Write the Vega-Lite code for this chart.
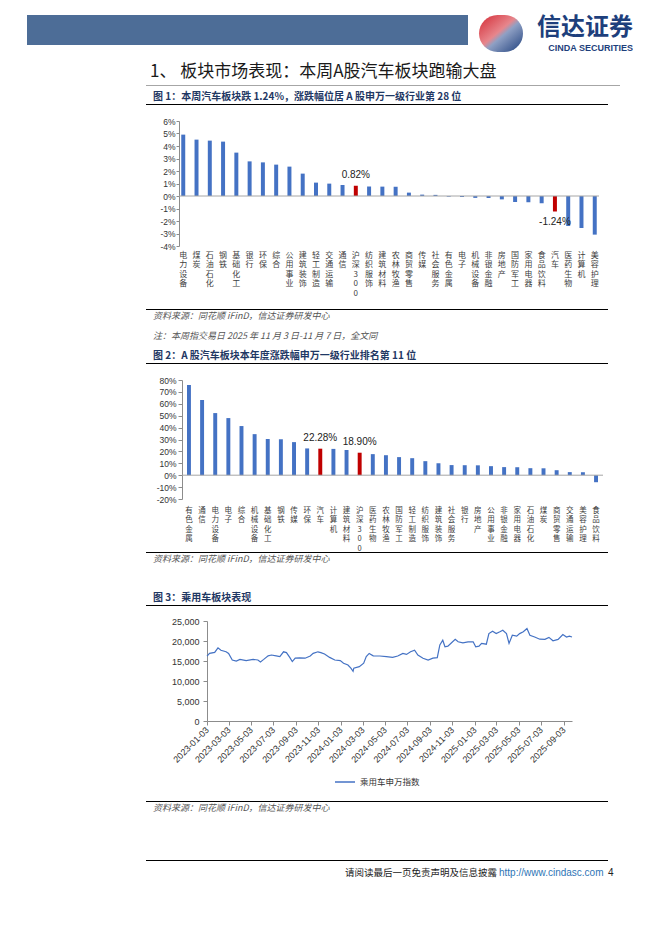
{
  "$schema": "https://vega.github.io/schema/vega-lite/v6.json",
  "padding": {"left": 27, "top": 15, "right": 0, "bottom": 0},
  "background": "white",
  "config": {
    "view": {"stroke": null},
    "font": "Liberation Sans",
    "axis": {"labelColor": "#333333", "domainColor": "#8C8C8C", "tickColor": "#8C8C8C", "grid": false}
  },
  "spacing": 0,
  "bounds": "flush",
  "hconcat": [
    {"width": 119, "height": 30, "data": {"values": []}, "mark": "point", "view": {"fill": "#4D6D97", "stroke": null}},
    {
      "spacing": 0,
      "bounds": "flush",
      "vconcat": [
        {
          "spacing": 0, "bounds": "flush",
          "hconcat": [
            {"width": 322, "height": 30, "data": {"values": []}, "mark": "point", "view": {"fill": "#4D6D97", "stroke": null}},
            {"width": 11, "height": 1, "data": {"values": []}, "mark": "point"},
            {"width": 44, "height": 37, "data": {"values": []}, "mark": "point",
             "view": {"cornerRadius": 19, "stroke": null,
                      "fill": {"gradient": "linear", "x1": 0, "y1": 0, "x2": 1, "y2": 1,
                               "stops": [{"offset": 0, "color": "#D42A34"}, {"offset": 0.45, "color": "#E7868C"}, {"offset": 0.55, "color": "#8FA0C4"}, {"offset": 1, "color": "#1E3F7C"}]}}},
            {"width": 110, "height": 1, "data": {"values": []}, "mark": "point",
             "title": {"text": "信达证券", "subtitle": "CINDA SECURITIES", "orient": "bottom", "anchor": "end", "offset": 0,
                       "font": "Noto Sans CJK SC", "fontSize": 24, "fontWeight": "bold", "color": "#1E3F7C",
                       "subtitleFont": "Liberation Sans", "subtitleFontSize": 9, "subtitleFontWeight": "bold", "subtitleColor": "#1E3F7C", "subtitlePadding": 4}}
          ]
        },
        {"width": 1, "height": 70, "data": {"values": []}, "mark": "point"},
        {"width": 474, "height": 1, "data": {"values": []}, "mark": "point", "view": {"fill": "#A6A6A6", "stroke": null},
         "title": {"text": "1、 板块市场表现：本周A股汽车板块跑输大盘", "anchor": "start", "orient": "top", "offset": 4, "dx": 4,
                   "font": "Noto Sans CJK SC", "fontSize": 17, "fontWeight": "normal", "color": "#1A1A1A"}},
        {"width": 1, "height": 18, "data": {"values": []}, "mark": "point"},
        {"width": 462, "height": 1, "data": {"values": []}, "mark": "point", "view": {"fill": "#000000", "stroke": null},
         "title": {"text": "图 1：本周汽车板块跌 1.24%，涨跌幅位居 A 股申万一级行业第 28 位", "anchor": "start", "orient": "top", "offset": 2, "dx": 7,
                   "font": "Noto Sans CJK SC", "fontSize": 10, "fontWeight": "bold", "color": "#1F3864"}},
        {"width": 1, "height": 16, "data": {"values": []}, "mark": "point"},
        {
          "spacing": 0, "bounds": "flush",
          "hconcat": [
            {"width": 33, "height": 1, "data": {"values": []}, "mark": "point"},
            {
              "width": 420, "height": 125,
              "data": {"values": [
                {"n": "电力设备", "v": 4.91}, {"n": "煤炭", "v": 4.51}, {"n": "石油石化", "v": 4.43}, {"n": "钢铁", "v": 4.35},
                {"n": "基础化工", "v": 3.47}, {"n": "银行", "v": 2.77}, {"n": "环保", "v": 2.69}, {"n": "综合", "v": 2.51},
                {"n": "公用事业", "v": 2.35}, {"n": "建筑装饰", "v": 1.79}, {"n": "轻工制造", "v": 1.07}, {"n": "交通运输", "v": 0.99},
                {"n": "通信", "v": 0.88}, {"n": "沪深300", "v": 0.82, "lab": "0.82%"}, {"n": "纺织服饰", "v": 0.76}, {"n": "建筑材料", "v": 0.75},
                {"n": "农林牧渔", "v": 0.74}, {"n": "商贸零售", "v": 0.27}, {"n": "传媒", "v": 0.11}, {"n": "社会服务", "v": 0.09},
                {"n": "有色金属", "v": -0.05}, {"n": "电子", "v": -0.08}, {"n": "机械设备", "v": -0.15}, {"n": "非银金融", "v": -0.16},
                {"n": "房地产", "v": -0.27}, {"n": "国防军工", "v": -0.48}, {"n": "家用电器", "v": -0.5}, {"n": "食品饮料", "v": -0.58},
                {"n": "汽车", "v": -1.24, "lab": "-1.24%"}, {"n": "医药生物", "v": -2.4}, {"n": "计算机", "v": -2.56}, {"n": "美容护理", "v": -3.09}
              ]},
              "layer": [
                {
                  "mark": {"type": "bar"},
                  "encoding": {
                    "x": {"field": "n", "type": "nominal", "sort": null,
                          "scale": {"paddingInner": 0.7, "paddingOuter": 0.17},
                          "axis": {"title": null, "domain": false, "ticks": false, "labelAngle": 0, "labelAlign": "center", "labelBaseline": "top",
                                   "labelExpr": "split(datum.label, '')", "labelFont": "Noto Sans CJK SC", "labelFontSize": 8, "labelLineHeight": 9.5,
                                   "labelPadding": 5, "labelOverlap": false, "labelColor": "#404040", "labelBound": false}},
                    "y": {"field": "v", "type": "quantitative",
                          "scale": {"domain": [-4, 6], "nice": false},
                          "axis": {"title": null, "values": [-4, -3, -2, -1, 0, 1, 2, 3, 4, 5, 6], "labelExpr": "datum.value + '%'",
                                   "labelFontSize": 8.5, "tickSize": 3, "labelPadding": 1, "labelOverlap": false, "domainColor": "#8C8C8C"}},
                    "color": {"condition": {"test": "datum.lab", "value": "#C00000"}, "value": "#4472C4"}
                  }
                },
                {"data": {"values": [{}]}, "mark": {"type": "rule", "color": "#A6A6A6", "strokeWidth": 1},
                 "encoding": {"y": {"datum": 0, "type": "quantitative",
                                    "axis": {"title": null, "values": [-4, -3, -2, -1, 0, 1, 2, 3, 4, 5, 6], "labelExpr": "datum.value + '%'",
                                             "labelFontSize": 8.5, "tickSize": 3, "labelPadding": 1, "labelOverlap": false, "domainColor": "#8C8C8C"}}}},
                {
                  "transform": [{"filter": "datum.lab && datum.v > 0"}],
                  "mark": {"type": "text", "baseline": "bottom", "dy": -6, "font": "Liberation Sans", "fontSize": 10, "color": "#222222"},
                  "encoding": {
                    "x": {"field": "n", "type": "nominal", "sort": null,
                          "axis": {"title": null, "domain": false, "ticks": false, "labelAngle": 0, "labelAlign": "center", "labelBaseline": "top",
                                   "labelExpr": "split(datum.label, '')", "labelFont": "Noto Sans CJK SC", "labelFontSize": 8, "labelLineHeight": 9.5,
                                   "labelPadding": 5, "labelOverlap": false, "labelColor": "#404040", "labelBound": false}},
                    "y": {"field": "v", "type": "quantitative",
                          "axis": {"title": null, "values": [-4, -3, -2, -1, 0, 1, 2, 3, 4, 5, 6], "labelExpr": "datum.value + '%'",
                                   "labelFontSize": 8.5, "tickSize": 3, "labelPadding": 1, "labelOverlap": false, "domainColor": "#8C8C8C"}},
                    "text": {"field": "lab"}}
                },
                {
                  "transform": [{"filter": "datum.lab && datum.v < 0"}],
                  "mark": {"type": "text", "baseline": "top", "dy": 5, "font": "Liberation Sans", "fontSize": 10, "color": "#222222"},
                  "encoding": {
                    "x": {"field": "n", "type": "nominal", "sort": null,
                          "axis": {"title": null, "domain": false, "ticks": false, "labelAngle": 0, "labelAlign": "center", "labelBaseline": "top",
                                   "labelExpr": "split(datum.label, '')", "labelFont": "Noto Sans CJK SC", "labelFontSize": 8, "labelLineHeight": 9.5,
                                   "labelPadding": 5, "labelOverlap": false, "labelColor": "#404040", "labelBound": false}},
                    "y": {"field": "v", "type": "quantitative",
                          "axis": {"title": null, "values": [-4, -3, -2, -1, 0, 1, 2, 3, 4, 5, 6], "labelExpr": "datum.value + '%'",
                                   "labelFontSize": 8.5, "tickSize": 3, "labelPadding": 1, "labelOverlap": false, "domainColor": "#8C8C8C"}},
                    "text": {"field": "lab"}}
                }
              ]
            }
          ]
        },
        {"width": 1, "height": 188, "data": {"values": []}, "mark": "point"},
        {"width": 462, "height": 1, "data": {"values": []}, "mark": "point", "view": {"fill": "#000000", "stroke": null},
         "title": {"text": ["资料来源：同花顺 iFinD，信达证券研发中心", "注：本周指交易日 2025 年 11 月 3 日-11 月 7 日，全文同"], "anchor": "start", "orient": "bottom", "offset": 2, "dx": 7,
                   "lineHeight": 20, "font": "Noto Sans CJK SC", "fontSize": 9, "fontWeight": "normal", "fontStyle": "italic", "color": "#555555"}},
        {"width": 1, "height": 53, "data": {"values": []}, "mark": "point"},
        {"width": 462, "height": 1, "data": {"values": []}, "mark": "point", "view": {"fill": "#000000", "stroke": null},
         "title": {"text": "图 2：A 股汽车板块本年度涨跌幅申万一级行业排名第 11 位", "anchor": "start", "orient": "top", "offset": 2, "dx": 7,
                   "font": "Noto Sans CJK SC", "fontSize": 10, "fontWeight": "bold", "color": "#1F3864"}},
        {"width": 1, "height": 16, "data": {"values": []}, "mark": "point"},
        {
          "spacing": 0, "bounds": "flush",
          "hconcat": [
            {"width": 36, "height": 1, "data": {"values": []}, "mark": "point"},
            {
              "width": 421, "height": 119,
              "data": {"values": [
                {"n": "有色金属", "v": 75.8}, {"n": "通信", "v": 63.2}, {"n": "电力设备", "v": 52.2}, {"n": "电子", "v": 48.0},
                {"n": "综合", "v": 41.3}, {"n": "机械设备", "v": 34.5}, {"n": "基础化工", "v": 30.4}, {"n": "钢铁", "v": 30.2},
                {"n": "传媒", "v": 27.8}, {"n": "环保", "v": 22.5}, {"n": "汽车", "v": 22.28, "lab": "22.28%"}, {"n": "计算机", "v": 22.1},
                {"n": "建筑材料", "v": 21.2}, {"n": "沪深300", "v": 18.9, "lab": "18.90%"}, {"n": "医药生物", "v": 17.7}, {"n": "农林牧渔", "v": 16.8},
                {"n": "国防军工", "v": 15.2}, {"n": "轻工制造", "v": 14.3}, {"n": "纺织服饰", "v": 11.8}, {"n": "建筑装饰", "v": 10.1},
                {"n": "社会服务", "v": 8.5}, {"n": "银行", "v": 8.4}, {"n": "房地产", "v": 8.3}, {"n": "公用事业", "v": 7.6},
                {"n": "非银金融", "v": 6.8}, {"n": "家用电器", "v": 6.7}, {"n": "石油石化", "v": 5.9}, {"n": "煤炭", "v": 5.8},
                {"n": "商贸零售", "v": 4.2}, {"n": "交通运输", "v": 2.6}, {"n": "美容护理", "v": 2.5}, {"n": "食品饮料", "v": -5.9}
              ]},
              "layer": [
                {
                  "mark": {"type": "bar"},
                  "encoding": {
                    "x": {"field": "n", "type": "nominal", "sort": null,
                          "scale": {"paddingInner": 0.7, "paddingOuter": 0.38},
                          "axis": {"title": null, "domain": false, "ticks": false, "labelAngle": 0, "labelAlign": "center", "labelBaseline": "top",
                                   "labelExpr": "split(datum.label, '')", "labelFont": "Noto Sans CJK SC", "labelFontSize": 7.5, "labelLineHeight": 9.5,
                                   "labelPadding": 7, "labelOverlap": false, "labelColor": "#404040", "labelBound": false}},
                    "y": {"field": "v", "type": "quantitative",
                          "scale": {"domain": [-20, 80], "nice": false},
                          "axis": {"title": null, "values": [-20, -10, 0, 10, 20, 30, 40, 50, 60, 70, 80], "labelExpr": "datum.value + '%'",
                                   "labelFontSize": 8.5, "tickSize": 4, "labelPadding": 2, "labelOverlap": false, "domainColor": "#8C8C8C"}},
                    "color": {"condition": {"test": "datum.lab", "value": "#C00000"}, "value": "#4472C4"}
                  }
                },
                {"data": {"values": [{}]}, "mark": {"type": "rule", "color": "#A6A6A6", "strokeWidth": 1},
                 "encoding": {"y": {"datum": 0, "type": "quantitative",
                                    "axis": {"title": null, "values": [-20, -10, 0, 10, 20, 30, 40, 50, 60, 70, 80], "labelExpr": "datum.value + '%'",
                                             "labelFontSize": 8.5, "tickSize": 4, "labelPadding": 2, "labelOverlap": false, "domainColor": "#8C8C8C"}}}},
                {
                  "transform": [{"filter": "datum.lab && datum.v > 0"}],
                  "mark": {"type": "text", "baseline": "bottom", "dy": -6, "font": "Liberation Sans", "fontSize": 10, "color": "#222222"},
                  "encoding": {
                    "x": {"field": "n", "type": "nominal", "sort": null,
                          "axis": {"title": null, "domain": false, "ticks": false, "labelAngle": 0, "labelAlign": "center", "labelBaseline": "top",
                                   "labelExpr": "split(datum.label, '')", "labelFont": "Noto Sans CJK SC", "labelFontSize": 7.5, "labelLineHeight": 9.5,
                                   "labelPadding": 7, "labelOverlap": false, "labelColor": "#404040", "labelBound": false}},
                    "y": {"field": "v", "type": "quantitative",
                          "axis": {"title": null, "values": [-20, -10, 0, 10, 20, 30, 40, 50, 60, 70, 80], "labelExpr": "datum.value + '%'",
                                   "labelFontSize": 8.5, "tickSize": 4, "labelPadding": 2, "labelOverlap": false, "domainColor": "#8C8C8C"}},
                    "text": {"field": "lab"}}
                }
              ]
            }
          ]
        },
        {"width": 1, "height": 172, "data": {"values": []}, "mark": "point"},
        {"width": 462, "height": 1, "data": {"values": []}, "mark": "point", "view": {"fill": "#000000", "stroke": null},
         "title": {"text": "资料来源：同花顺 iFinD，信达证券研发中心", "anchor": "start", "orient": "bottom", "offset": 2, "dx": 7,
                   "font": "Noto Sans CJK SC", "fontSize": 9, "fontWeight": "normal", "fontStyle": "italic", "color": "#555555"}},
        {"width": 1, "height": 52, "data": {"values": []}, "mark": "point"},
        {"width": 462, "height": 1, "data": {"values": []}, "mark": "point", "view": {"fill": "#000000", "stroke": null},
         "title": {"text": "图 3：乘用车板块表现", "anchor": "start", "orient": "top", "offset": 2, "dx": 7,
                   "font": "Noto Sans CJK SC", "fontSize": 10, "fontWeight": "bold", "color": "#1F3864"}},
        {"width": 1, "height": 15, "data": {"values": []}, "mark": "point"},
        {
          "spacing": 0, "bounds": "flush",
          "hconcat": [
            {"width": 61, "height": 1, "data": {"values": []}, "mark": "point"},
            {
              "width": 365, "height": 100,
              "data": {"values": [
                {"d": "2023-01-03", "v": 16200}, {"d": "2023-01-10", "v": 16900}, {"d": "2023-01-24", "v": 17150}, {"d": "2023-02-02", "v": 18300},
                {"d": "2023-02-10", "v": 17700}, {"d": "2023-02-24", "v": 17300}, {"d": "2023-03-03", "v": 16900}, {"d": "2023-03-13", "v": 15260},
                {"d": "2023-03-24", "v": 15000}, {"d": "2023-04-03", "v": 15400}, {"d": "2023-04-20", "v": 15100}, {"d": "2023-05-09", "v": 15400},
                {"d": "2023-05-22", "v": 15250}, {"d": "2023-05-29", "v": 14770}, {"d": "2023-06-07", "v": 15400}, {"d": "2023-06-19", "v": 16300},
                {"d": "2023-06-28", "v": 16500}, {"d": "2023-07-11", "v": 16300}, {"d": "2023-07-21", "v": 16100}, {"d": "2023-07-31", "v": 17300},
                {"d": "2023-08-08", "v": 17100}, {"d": "2023-08-17", "v": 15900}, {"d": "2023-08-24", "v": 14850}, {"d": "2023-09-01", "v": 15700},
                {"d": "2023-09-13", "v": 15800}, {"d": "2023-09-28", "v": 15700}, {"d": "2023-10-12", "v": 16250}, {"d": "2023-10-20", "v": 16900},
                {"d": "2023-11-02", "v": 17300}, {"d": "2023-11-10", "v": 17100}, {"d": "2023-11-20", "v": 16750}, {"d": "2023-12-04", "v": 15900},
                {"d": "2023-12-18", "v": 15250}, {"d": "2024-01-02", "v": 15100}, {"d": "2024-01-11", "v": 14450}, {"d": "2024-01-23", "v": 14000},
                {"d": "2024-01-31", "v": 13200}, {"d": "2024-02-06", "v": 12400}, {"d": "2024-02-08", "v": 13200}, {"d": "2024-02-23", "v": 13600},
                {"d": "2024-03-06", "v": 14450}, {"d": "2024-03-13", "v": 16100}, {"d": "2024-03-21", "v": 16900}, {"d": "2024-04-01", "v": 16300},
                {"d": "2024-04-19", "v": 16250}, {"d": "2024-05-07", "v": 16100}, {"d": "2024-05-24", "v": 15900}, {"d": "2024-06-07", "v": 16250},
                {"d": "2024-06-21", "v": 16900}, {"d": "2024-07-01", "v": 16650}, {"d": "2024-07-12", "v": 17300}, {"d": "2024-07-23", "v": 17700},
                {"d": "2024-08-01", "v": 16500}, {"d": "2024-08-15", "v": 15700}, {"d": "2024-08-29", "v": 15250}, {"d": "2024-09-11", "v": 15700},
                {"d": "2024-09-23", "v": 15850}, {"d": "2024-09-30", "v": 19000}, {"d": "2024-10-08", "v": 20200}, {"d": "2024-10-14", "v": 18550},
                {"d": "2024-10-22", "v": 18700}, {"d": "2024-11-01", "v": 19550}, {"d": "2024-11-11", "v": 20400}, {"d": "2024-11-19", "v": 19800},
                {"d": "2024-12-02", "v": 19550}, {"d": "2024-12-16", "v": 19800}, {"d": "2024-12-30", "v": 19800}, {"d": "2025-01-06", "v": 18550},
                {"d": "2025-01-15", "v": 18700}, {"d": "2025-01-22", "v": 19400}, {"d": "2025-02-04", "v": 19200}, {"d": "2025-02-11", "v": 21850},
                {"d": "2025-02-21", "v": 22450}, {"d": "2025-03-03", "v": 21850}, {"d": "2025-03-13", "v": 22300}, {"d": "2025-03-21", "v": 22700},
                {"d": "2025-03-31", "v": 21850}, {"d": "2025-04-07", "v": 19400}, {"d": "2025-04-16", "v": 21450}, {"d": "2025-04-28", "v": 21200},
                {"d": "2025-05-06", "v": 21850}, {"d": "2025-05-16", "v": 22300}, {"d": "2025-05-26", "v": 23100}, {"d": "2025-06-03", "v": 21450},
                {"d": "2025-06-16", "v": 21000}, {"d": "2025-06-30", "v": 20450}, {"d": "2025-07-14", "v": 20400}, {"d": "2025-07-25", "v": 20900},
                {"d": "2025-08-05", "v": 20050}, {"d": "2025-08-19", "v": 20400}, {"d": "2025-09-01", "v": 21600}, {"d": "2025-09-11", "v": 21000},
                {"d": "2025-09-19", "v": 21200}, {"d": "2025-09-26", "v": 21000}
              ]},
              "mark": {"type": "line", "strokeWidth": 1.2},
              "encoding": {
                "x": {"field": "d", "type": "temporal",
                      "scale": {"type": "utc", "nice": false,
                                "domain": [{"year": 2023, "month": 1, "date": 3, "utc": true}, {"year": 2025, "month": 9, "date": 26, "utc": true}]},
                      "axis": {"title": null, "format": "%Y-%m-%d", "labelAngle": -45, "labelAlign": "right", "labelBaseline": "middle",
                               "labelFontSize": 9, "labelPadding": 3, "tickSize": 4, "labelOverlap": false, "labelFlush": false, "labelBound": false,
                               "values": [
                                 {"year": 2023, "month": 1, "date": 3, "utc": true}, {"year": 2023, "month": 3, "date": 3, "utc": true},
                                 {"year": 2023, "month": 5, "date": 3, "utc": true}, {"year": 2023, "month": 7, "date": 3, "utc": true},
                                 {"year": 2023, "month": 9, "date": 3, "utc": true}, {"year": 2023, "month": 11, "date": 3, "utc": true},
                                 {"year": 2024, "month": 1, "date": 3, "utc": true}, {"year": 2024, "month": 3, "date": 3, "utc": true},
                                 {"year": 2024, "month": 5, "date": 3, "utc": true}, {"year": 2024, "month": 7, "date": 3, "utc": true},
                                 {"year": 2024, "month": 9, "date": 3, "utc": true}, {"year": 2024, "month": 11, "date": 3, "utc": true},
                                 {"year": 2025, "month": 1, "date": 3, "utc": true}, {"year": 2025, "month": 3, "date": 3, "utc": true},
                                 {"year": 2025, "month": 5, "date": 3, "utc": true}, {"year": 2025, "month": 7, "date": 3, "utc": true},
                                 {"year": 2025, "month": 9, "date": 3, "utc": true}
                               ]}},
                "y": {"field": "v", "type": "quantitative", "scale": {"domain": [0, 25000], "nice": false},
                      "axis": {"title": null, "values": [0, 5000, 10000, 15000, 20000, 25000], "format": ",d", "labelFontSize": 9, "tickSize": 4, "labelPadding": 4}},
                "color": {"datum": "乘用车申万指数", "type": "nominal", "scale": {"range": ["#4472C4"]},
                          "legend": {"orient": "none", "legendX": 307, "legendY": 756, "title": null, "symbolType": "stroke", "symbolSize": 400,
                                     "symbolStrokeWidth": 1.5, "labelFont": "Noto Sans CJK SC", "labelFontSize": 8.5, "labelColor": "#333333",
                                     "padding": 0, "labelOffset": 4}}
              }
            }
          ]
        },
        {"width": 1, "height": 180, "data": {"values": []}, "mark": "point"},
        {"width": 462, "height": 1, "data": {"values": []}, "mark": "point", "view": {"fill": "#000000", "stroke": null},
         "title": {"text": "资料来源：同花顺 iFinD，信达证券研发中心", "anchor": "start", "orient": "bottom", "offset": 2, "dx": 7,
                   "font": "Noto Sans CJK SC", "fontSize": 9, "fontWeight": "normal", "fontStyle": "italic", "color": "#555555"}},
        {"width": 1, "height": 58, "data": {"values": []}, "mark": "point"},
        {"width": 462, "height": 1, "data": {"values": []}, "mark": "point", "view": {"fill": "#000000", "stroke": null}},
        {
          "spacing": 0, "bounds": "flush",
          "hconcat": [
            {"width": 192, "height": 1, "data": {"values": []}, "mark": "point"},
            {"width": 159, "height": 1, "data": {"values": []}, "mark": "point",
             "title": {"text": "请阅读最后一页免责声明及信息披露", "anchor": "end", "orient": "bottom", "offset": 6,
                       "font": "Noto Sans CJK SC", "fontSize": 9.5, "fontWeight": "normal", "color": "#222222"}},
            {"width": 108, "height": 1, "data": {"values": []}, "mark": "point",
             "title": {"text": "http://www.cindasc.com", "anchor": "start", "orient": "bottom", "offset": 6, "dx": 2,
                       "font": "Liberation Sans", "fontSize": 10, "fontWeight": "normal", "color": "#2E75B6"}},
            {"width": 12, "height": 1, "data": {"values": []}, "mark": "point",
             "title": {"text": "4", "anchor": "start", "orient": "bottom", "offset": 6, "dx": 3,
                       "font": "Liberation Sans", "fontSize": 10, "fontWeight": "normal", "color": "#222222"}}
          ]
        }
      ]
    }
  ]
}
